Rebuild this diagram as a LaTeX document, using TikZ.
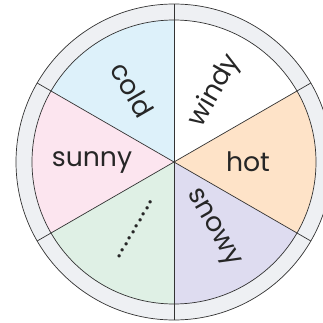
\documentclass[tikz,border=0pt]{standalone}
\usepackage{fontspec}
\setmainfont{Poppins}
\usetikzlibrary{calc}
\definecolor{ringgray}{HTML}{EEF0F3}
\definecolor{coldblue}{HTML}{DDF1FA}
\definecolor{sunnypink}{HTML}{FCE5EF}
\definecolor{hotpeach}{HTML}{FEE3C8}
\definecolor{snowylilac}{HTML}{DEDCF0}
\definecolor{dotgreen}{HTML}{DFF0E5}
\definecolor{edgegray}{HTML}{333333}

\begin{document}
\begin{tikzpicture}[line width=0.5pt,
    word/.style={font=\fontsize{19}{22}\selectfont, text=black!85, inner sep=0pt}]
    \useasboundingbox (-4.35,-4.025) rectangle (3.725,4.05);
    \clip (-4.35,-4.025) rectangle (3.725,4.05);

    % outer ring
    \fill[ringgray] (0,0) circle (3.95);
    \draw[edgegray] (0,0) circle (3.95);

    % sectors
    \fill[white] (0,0) -- (30:3.55) arc (30:90:3.55) -- cycle;
    \fill[coldblue] (0,0) -- (90:3.55) arc (90:150:3.55) -- cycle;
    \fill[sunnypink] (0,0) -- (150:3.55) arc (150:210:3.55) -- cycle;
    \fill[dotgreen] (0,0) -- (210:3.55) arc (210:270:3.55) -- cycle;
    \fill[snowylilac] (0,0) -- (270:3.55) arc (270:330:3.55) -- cycle;
    \fill[hotpeach] (0,0) -- (-30:3.55) arc (-30:30:3.55) -- cycle;
    \draw[edgegray] (0,0) circle (3.55);
    \foreach \a in {30,90,...,330}
        \draw[edgegray] (0,0) -- (\a:3.95);

    % labels
    \node[word, rotate=-60] (cold) at (120:2.08) {cold};
    \node[word, rotate=60] (windy) at (60:2.05) {windy};
    \node[word] (hot) at (0:1.85) {hot};
    \node[word, rotate=-60] (snowy) at (-60:1.92) {snowy};
    \node[word] (sunny) at (180:2.05) {sunny};
    \node[word, rotate=60] (blank) at (240:1.95) {\addfontfeature{LetterSpace=5}..........};
\end{tikzpicture}
\end{document}
